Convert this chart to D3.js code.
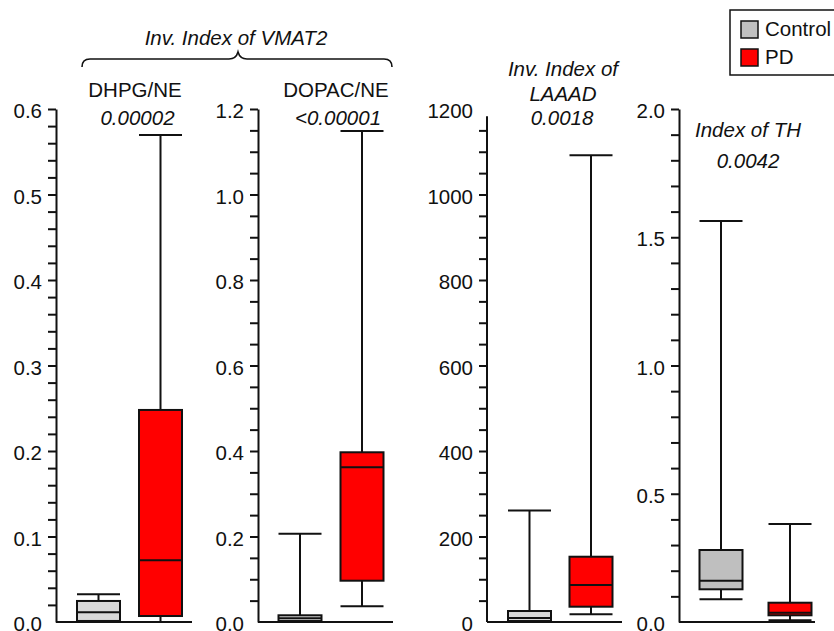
<!DOCTYPE html>
<html>
<head>
<meta charset="utf-8">
<script src="https://cdn.jsdelivr.net/npm/d3@7"></script>
<style>
  html, body { margin: 0; padding: 0; background: #fff; }
  svg { display: block; font-family: "Liberation Sans", Arial, sans-serif; }
</style>
</head>
<body>
<svg id="chart" width="834" height="631"></svg>
<script>
// ---------------- DATA ----------------
const categories = ["Control", "PD"];
const panelTitles = [["DHPG/NE"], ["DOPAC/NE"], ["Inv. Index of", "LAAAD"], ["Index of TH"]];
const pValues = ["0.00002", "<0.00001", "0.0018", "0.0042"];
const groupTitle = "Inv. Index of VMAT2";
// box stats: [min, q1, median, q3, max]
const controlStats = [
  [0, 0.0012, 0.0113, 0.0246, 0.0324],
  [0, 0.0023, 0.0087, 0.0157, 0.2065],
  [0, 2.3, 9.4, 25.7, 261],
  [0.0885, 0.1275, 0.161, 0.2807, 1.563]
];
const pdStats = [
  [0, 0.007, 0.0722, 0.248, 0.5696],
  [0.0367, 0.0966, 0.362, 0.397, 1.1485],
  [18, 35.8, 86.5, 152.7, 1092],
  [0.0066, 0.0261, 0.0363, 0.0752, 0.382]
];
const yMax = [0.6, 1.2, 1200, 2.0];
const minorStep = [0.02, 0.05, 50, 0.1];
const majorTicks = [
  [0, 0.1, 0.2, 0.3, 0.4, 0.5, 0.6],
  [0, 0.2, 0.4, 0.6, 0.8, 1.0, 1.2],
  [0, 200, 400, 600, 800, 1000, 1200],
  [0, 0.5, 1.0, 1.5, 2.0]
];
const tickFormats = [".1f", ".1f", "d", ".1f"];

// ---------------- LAYOUT ----------------
const layout = [
  { axisX: 56,  endX: 192, c0: 98.5,  c1: 160.5, titleX: 135, titleY: [97],      italicTitle: false, pX: 137.5, pY: 125, ctrlFill: "#d9d9d9" },
  { axisX: 258, endX: 393, c0: 300,   c1: 362,   titleX: 336, titleY: [97],      italicTitle: false, pX: 338,   pY: 125, ctrlFill: "#d9d9d9" },
  { axisX: 487, endX: 622, c0: 529.5, c1: 591,   titleX: 563, titleY: [76, 101], italicTitle: true,  pX: 562,   pY: 125, ctrlFill: "#d9d9d9" },
  { axisX: 679, endX: 815, c0: 721,   c1: 790,   titleX: 748, titleY: [137],     italicTitle: true,  pX: 748,   pY: 168, ctrlFill: "#bfbfbf" }
];
const yBottom = 622, yTop = 109, boxW = 43;
const pdFill = "#ff0000";
const tickFont = "20.5px", titleFont = "20.5px";

const svg = d3.select("#chart");

layout.forEach((L, i) => {
  const y = d3.scaleLinear().domain([0, yMax[i]]).range([yBottom, yTop]);
  const x = d3.scalePoint().domain(categories).range([L.c0, L.c1]);
  const fmt = d3.format(tickFormats[i]);
  const n = Math.round(yMax[i] / minorStep[i]);
  const ticks = d3.range(0, n + 1).map(k => +(k * minorStep[i]).toFixed(6));
  const isMajor = d => majorTicks[i].some(m => Math.abs(m - d) < 1e-9);

  const g = svg.append("g");

  // y axis
  const axis = d3.axisLeft(y)
    .tickValues(ticks)
    .tickSize(8)
    .tickSizeOuter(0)
    .tickPadding(6)
    .tickFormat(d => isMajor(d) ? fmt(d) : "");
  const ax = g.append("g").attr("transform", `translate(${L.axisX},0)`).call(axis);
  ax.attr("font-size", tickFont).attr("font-family", '"Liberation Sans", Arial, sans-serif');
  ax.select(".domain").attr("stroke-width", 2).attr("stroke", "#111");
  ax.selectAll(".tick line").attr("stroke-width", 2).attr("stroke", "#111");
  ax.selectAll(".tick text").attr("font-size", tickFont).attr("fill", "#111").attr("dy", "0.42em");
  ax.selectAll(".tick").filter(d => d === 0).select("line").remove();
  if (i === 2) {
    ax.selectAll(".tick").filter(d => d === yMax[i]).select("line").remove();
    ax.select(".domain").attr("d", `M0,${y(0)}V${y(1183)}`);
  }

  // boxes
  const stats = [controlStats[i], pdStats[i]];
  const fills = [L.ctrlFill, pdFill];
  categories.forEach((c, j) => {
    const [mn, q1, md, q3, mx] = stats[j];
    const cx = x(c);
    const bg = g.append("g").attr("stroke", "#111").attr("stroke-width", 2);
    // whiskers
    bg.append("line").attr("x1", cx).attr("x2", cx).attr("y1", y(q3)).attr("y2", y(mx));
    bg.append("line").attr("x1", cx).attr("x2", cx).attr("y1", y(q1)).attr("y2", y(mn));
    bg.append("line").attr("x1", cx - boxW / 2).attr("x2", cx + boxW / 2).attr("y1", y(mx)).attr("y2", y(mx));
    bg.append("line").attr("x1", cx - boxW / 2).attr("x2", cx + boxW / 2).attr("y1", y(mn)).attr("y2", y(mn));
    // box
    bg.append("rect").attr("x", cx - boxW / 2).attr("width", boxW)
      .attr("y", y(q3)).attr("height", y(q1) - y(q3)).attr("fill", fills[j]);
    bg.append("line").attr("x1", cx - boxW / 2).attr("x2", cx + boxW / 2).attr("y1", y(md)).attr("y2", y(md));
  });

  // baseline
  g.append("line").attr("x1", L.axisX).attr("x2", L.endX).attr("y1", yBottom).attr("y2", yBottom)
    .attr("stroke", "#111").attr("stroke-width", 2);

  // titles
  panelTitles[i].forEach((t, k) => {
    g.append("text").attr("x", L.titleX).attr("y", L.titleY[k]).attr("text-anchor", "middle")
      .attr("font-size", titleFont).attr("font-style", L.italicTitle ? "italic" : "normal").attr("fill", "#111").text(t);
  });
  g.append("text").attr("x", L.pX).attr("y", L.pY).attr("text-anchor", "middle")
    .attr("font-size", titleFont).attr("font-style", "italic").attr("fill", "#111").text(pValues[i]);
});

// group title + brace
svg.append("text").attr("x", 236).attr("y", 45).attr("text-anchor", "middle")
  .attr("font-size", titleFont).attr("font-style", "italic").attr("fill", "#111").text(groupTitle);
svg.append("path")
  .attr("d", "M82,67 Q82,59 90,59 L229,59 Q236,59 238,52 Q240,59 247,59 L384,59 Q392,59 392,67")
  .attr("fill", "none").attr("stroke", "#111").attr("stroke-width", 1.6);

// legend
const leg = svg.append("g");
leg.append("rect").attr("x", 730).attr("y", 10).attr("width", 130).attr("height", 65)
  .attr("fill", "#fff").attr("stroke", "#111").attr("stroke-width", 1.5);
const legFills = ["#c0c0c0", pdFill];
categories.forEach((c, j) => {
  leg.append("rect").attr("x", 741).attr("y", 21 + j * 28).attr("width", 17).attr("height", 17)
    .attr("fill", legFills[j]).attr("stroke", "#111").attr("stroke-width", 1.5);
  leg.append("text").attr("x", 765).attr("y", 36 + j * 28).attr("font-size", "20.5px").attr("fill", "#111").text(c);
});
</script>
</body>
</html>
